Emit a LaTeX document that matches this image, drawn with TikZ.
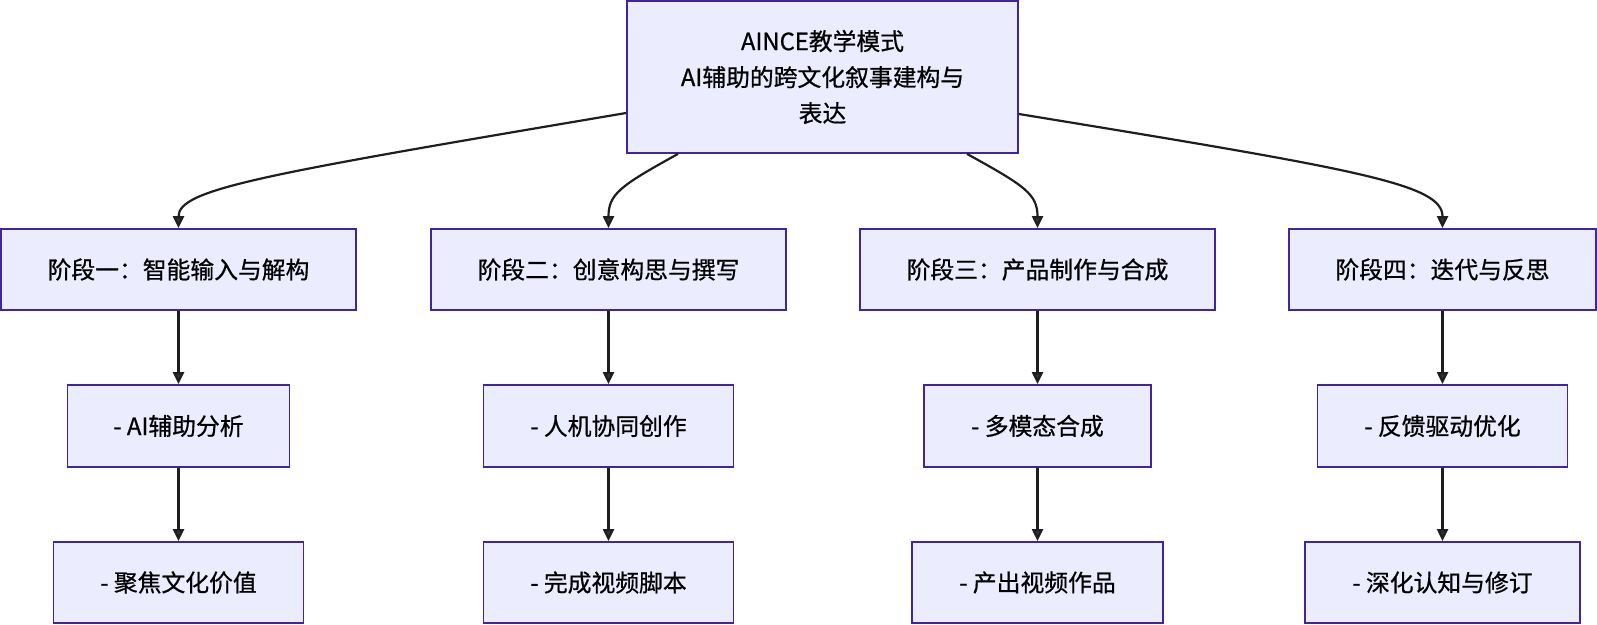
\documentclass[tikz,border=0pt]{standalone}
\usepackage{fontspec}
\newfontfamily\cjk[FakeBold=0.7]{Noto Sans CJK SC}
\usetikzlibrary{arrows.meta}
\definecolor{boxfill}{HTML}{ECECFF}
\definecolor{boxline}{RGB}{66,36,158}
\definecolor{linec}{HTML}{1E1E1E}
\definecolor{tipc}{HTML}{333333}
\begin{document}
\begin{tikzpicture}[x=1pt,y=-1pt,
  box/.style={draw=boxline,fill=boxfill,line width=1.8pt,rectangle,inner sep=0pt,
    font=\cjk\fontsize{23.8}{36}\selectfont,text=black,align=center},
  conn/.style={draw=linec,line width=2.2pt,-{Triangle[length=12pt,width=11pt,fill=tipc]}}]
\useasboundingbox (0,0) rectangle (1597,624);
% top
\node[box,minimum width=391pt,minimum height=152pt] (top) at (822.5,77)
  {AINCE教学模式\\AI辅助的跨文化叙事建构与\\表达};
% row 2
\node[box,minimum width=355pt,minimum height=81pt] (s1) at (178.5,269.5) {阶段一：智能输入与解构};
\node[box,minimum width=355pt,minimum height=81pt] (s2) at (608.5,269.5) {阶段二：创意构思与撰写};
\node[box,minimum width=355pt,minimum height=81pt] (s3) at (1037.5,269.5) {阶段三：产品制作与合成};
\node[box,minimum width=307pt,minimum height=81pt] (s4) at (1442.5,269.5) {阶段四：迭代与反思};
% row 3
\node[box,minimum width=222pt,minimum height=82pt] (a1) at (178.5,426) {- AI辅助分析};
\node[box,minimum width=250pt,minimum height=82pt] (a2) at (608.5,426) {- 人机协同创作};
\node[box,minimum width=227pt,minimum height=82pt] (a3) at (1037.5,426) {- 多模态合成};
\node[box,minimum width=250pt,minimum height=82pt] (a4) at (1442.5,426) {- 反馈驱动优化};
% row 4
\node[box,minimum width=250pt,minimum height=81pt] (b1) at (178.5,582.5) {- 聚焦文化价值};
\node[box,minimum width=250pt,minimum height=81pt] (b2) at (608.5,582.5) {- 完成视频脚本};
\node[box,minimum width=251pt,minimum height=81pt] (b3) at (1037.5,582.5) {- 产出视频作品};
\node[box,minimum width=275pt,minimum height=81pt] (b4) at (1442.5,582.5) {- 深化认知与修订};
% curved connectors from top
\draw[conn] ([yshift=-36pt]top.west) .. controls +(-367,62) and +(0,-39) .. (s1.north);
\draw[conn] ([xshift=-144.5pt]top.south) .. controls +(-58,32) and +(0,-34) .. (s2.north);
\draw[conn] ([xshift=144.5pt]top.south) .. controls +(58,32) and +(0,-34) .. (s3.north);
\draw[conn] ([yshift=-37pt]top.east) .. controls +(342,56) and +(0,-44) .. (s4.north);
% vertical connectors
\foreach \i in {1,2,3,4}{
  \draw[conn] (s\i.south) -- (a\i.north);
  \draw[conn] (a\i.south) -- (b\i.north);
}
\end{tikzpicture}
\end{document}
